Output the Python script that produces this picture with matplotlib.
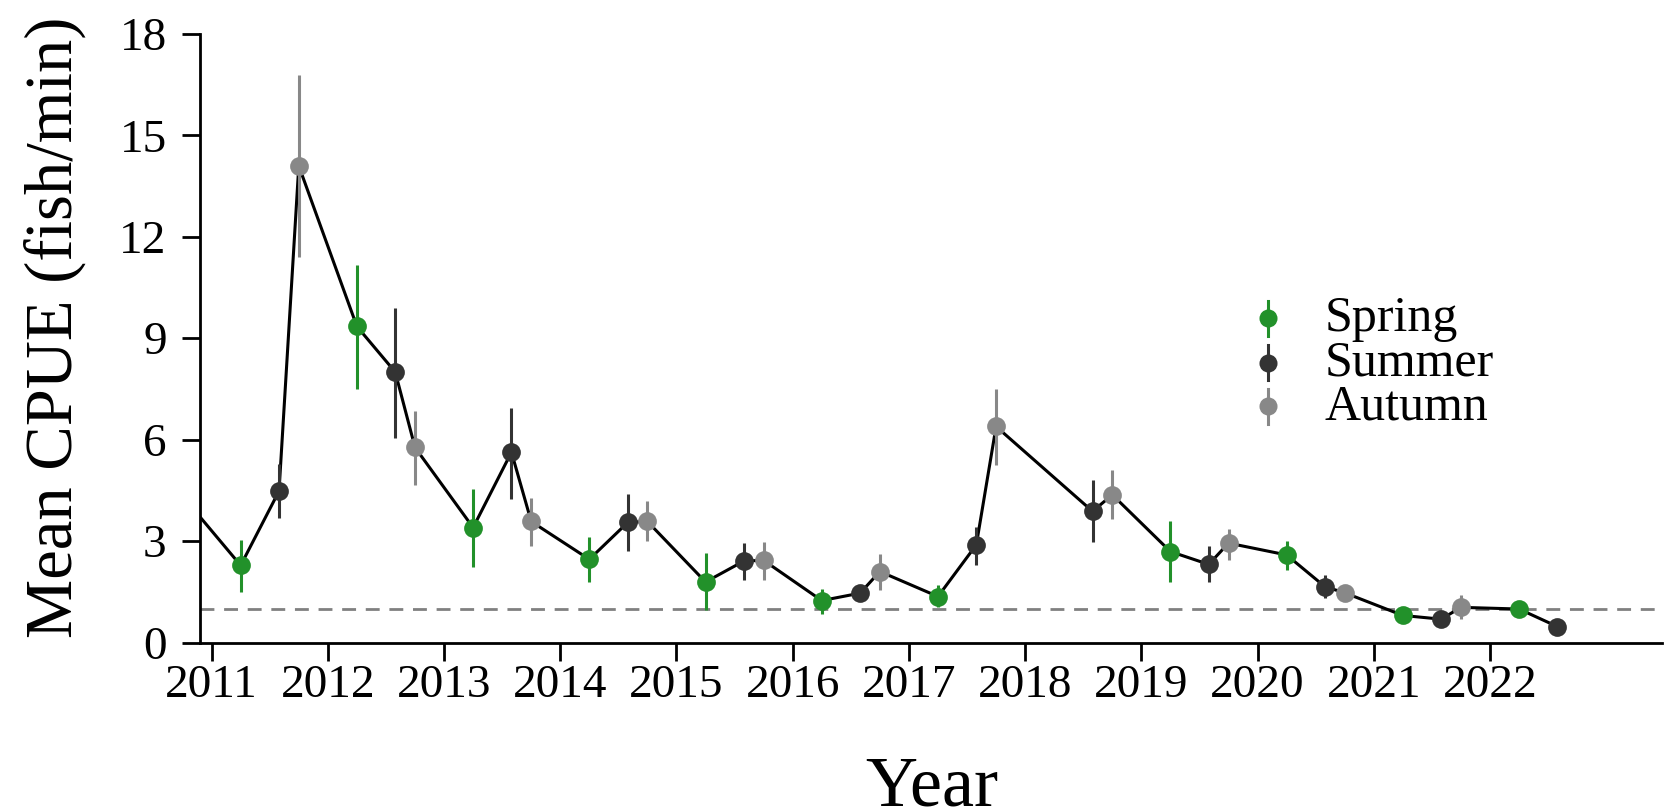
# seasonal mean CPUE by year, with error bars

import numpy as np
import matplotlib
matplotlib.use("Agg")
import matplotlib.pyplot as plt

plt.rcParams['font.family'] = ['Liberation Serif', 'DejaVu Serif']

years = np.arange(2011, 2023)

# offsets within the year for each season
spring_off, summer_off, autumn_off = 0.25, 0.58, 0.75

spring = [2.28, 9.35, 3.40, 2.46, 1.79, 1.24, 1.36, np.nan, 2.69, 2.59, 0.80, 0.99]
spring_lo = [1.50, 7.51, 2.24, 1.80, 0.95, 0.85, 1.05, np.nan, 1.80, 2.15, 0.70, 0.90]
spring_hi = [3.02, 11.18, 4.54, 3.12, 2.65, 1.59, 1.69, np.nan, 3.58, 3.00, 0.90, 1.08]

summer = [4.48, 8.00, 5.63, 3.55, 2.41, 1.46, 2.89, 3.88, 2.31, 1.65, 0.69, 0.47]
summer_lo = [3.68, 6.05, 4.24, 2.72, 1.84, 1.25, 2.30, 2.97, 1.80, 1.31, 0.60, 0.40]
summer_hi = [5.29, 9.89, 6.95, 4.39, 2.95, 1.67, 3.43, 4.80, 2.84, 2.00, 0.78, 0.54]

autumn = [14.10, 5.77, 3.58, 3.58, 2.43, 2.10, 6.39, 4.37, 2.94, 1.47, 1.04, np.nan]
autumn_lo = [11.39, 4.66, 2.86, 3.00, 1.86, 1.54, 5.24, 3.65, 2.44, 1.26, 0.69, np.nan]
autumn_hi = [16.80, 6.85, 4.28, 4.18, 2.97, 2.63, 7.51, 5.11, 3.35, 1.70, 1.41, np.nan]

# last point of 2010 (outside the plotted range, only the line shows)
autumn_2010 = 4.33

ref_level = 1.0

col_spring = '#22912a'
col_summer = '#333333'
col_autumn = '#888888'

fig = plt.figure(figsize=(16.67, 8.11), dpi=100)
ax = fig.add_axes([200/1667, 1-642.5/811, 1462/1667, 608.5/811])

# connecting line through all samples in time order
xs, ys = [2010 + autumn_off], [autumn_2010]
for i, yr in enumerate(years):
    for off, vals in ((spring_off, spring), (summer_off, summer), (autumn_off, autumn)):
        if not np.isnan(vals[i]):
            xs.append(yr + off)
            ys.append(vals[i])
ax.plot(xs, ys, color='black', lw=2.2, zorder=2)

ax.axhline(ref_level, color='#808080', lw=2, dashes=(5, 3.5), zorder=1)

for off, vals, lo, hi, c in ((spring_off, spring, spring_lo, spring_hi, col_spring),
                             (summer_off, summer, summer_lo, summer_hi, col_summer),
                             (autumn_off, autumn, autumn_lo, autumn_hi, col_autumn)):
    x = years + off
    ax.vlines(x, lo, hi, color=c, lw=2.2, zorder=3)
    ax.plot(x, vals, 'o', color=c, ms=13.5, mec='none', zorder=4)

ax.set_xlim(2010.90, 2023.48)
ax.set_ylim(0, 18)
ax.set_xticks(years)
ax.set_xticklabels([str(y) for y in years])
ax.set_yticks(np.arange(0, 19, 3))

for s in ['top', 'right']:
    ax.spines[s].set_visible(False)
ax.spines['left'].set_bounds(0, 18)
ax.spines['left'].set_linewidth(2)
ax.spines['bottom'].set_linewidth(2)
ax.tick_params(axis='both', direction='out', length=13, width=2, labelsize=34)
ax.tick_params(axis='y', pad=11)
ax.tick_params(axis='x', pad=3)

fig.text(55/1667, 1-327/811, 'Mean CPUE (fish/min)', rotation=90,
         ha='center', va='center', fontsize=48)
fig.text(932/1667, 1-805/811, 'Year', ha='center', va='baseline', fontsize=52)

# legend drawn by hand, R style
labels = ['Spring', 'Summer', 'Autumn']
cols = [col_spring, col_summer, col_autumn]
ly = [0.533, 0.460, 0.388]
for lab, c, yy in zip(labels, cols, ly):
    ax.plot([0.7305, 0.7305], [yy - 0.029, yy + 0.029], color=c, lw=2.2,
            transform=ax.transAxes, clip_on=False)
    ax.plot(0.7305, yy, 'o', color=c, ms=13, mec='none',
            transform=ax.transAxes, clip_on=False)
    ax.text(0.769, yy - 0.021, lab, transform=ax.transAxes, fontsize=36,
            va='baseline', ha='left')

fig.savefig('out.png', dpi=100)
